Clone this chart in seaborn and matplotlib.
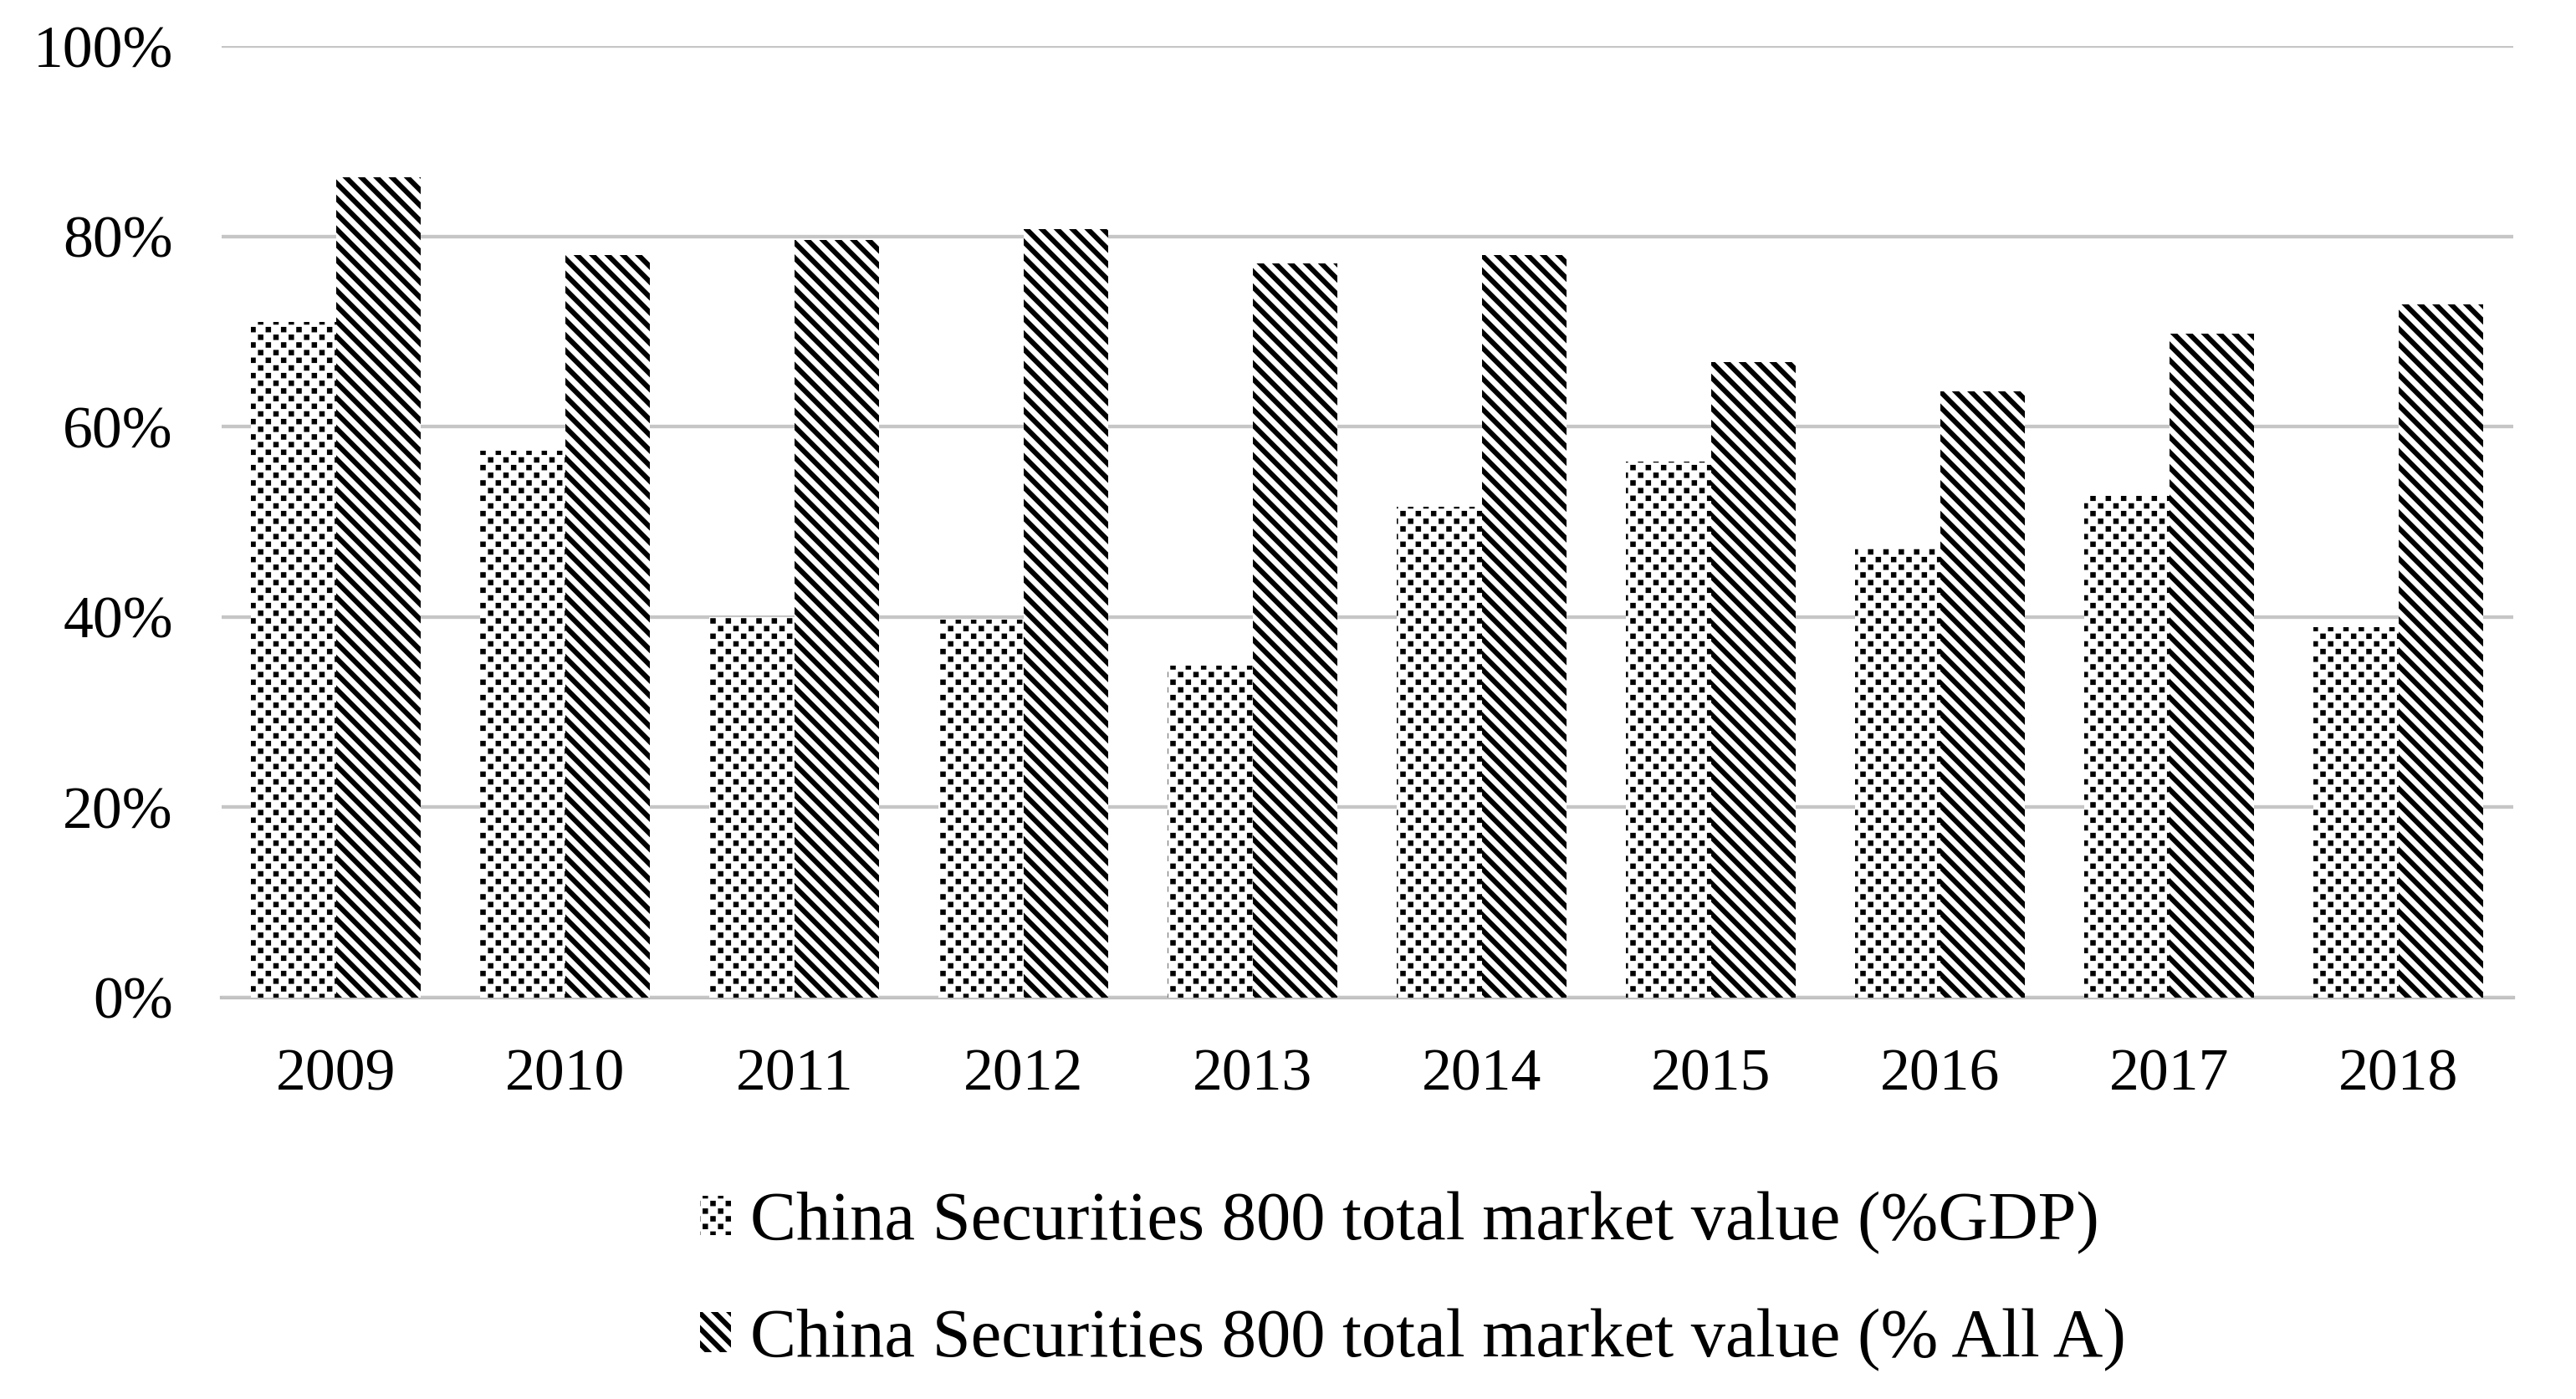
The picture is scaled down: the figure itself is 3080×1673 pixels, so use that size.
import numpy as np
import pandas as pd
import matplotlib
matplotlib.use("Agg")
import matplotlib.pyplot as plt
from matplotlib import hatch as mhatch
from matplotlib.path import Path
import seaborn as sns

years = ["2009", "2010", "2011", "2012", "2013", "2014", "2015", "2016", "2017", "2018"]
gdp_share = [71.0, 57.5, 40.0, 39.7, 34.9, 51.6, 56.3, 47.2, 52.7, 38.9]
alla_share = [86.2, 78.0, 79.6, 80.8, 77.2, 78.0, 66.8, 63.7, 69.8, 72.9]
series_names = ["China Securities 800 total market value (%GDP)",
                "China Securities 800 total market value (% All A)"]
y_ticks = [0, 20, 40, 60, 80, 100]

df = pd.DataFrame({
    "year": years * 2,
    "value": gdp_share + alla_share,
    "series": [series_names[0]] * len(years) + [series_names[1]] * len(years),
})


# staggered dot hatch (like the office "dotted" pattern), mapped to '*'
class StaggeredDots(mhatch.HatchPatternBase):
    def __init__(self, hatch, density):
        n = hatch.count('*')
        self.num_vertices = 0
        if n:
            cols, rows = 6, 12
            pts = []
            for r in range(rows + 1):
                y = r / rows
                if r % 2 == 0:
                    xs = np.linspace(0, 1, cols + 1)
                else:
                    xs = (np.arange(cols) + 0.5) / cols
                for x in xs:
                    pts.append((x, y))
            self.centers = np.array(pts)
            self.num_vertices = len(pts) * 5

    def set_vertices_and_codes(self, vertices, codes):
        h = 0.024
        sq = np.array([[-h, -h], [h, -h], [h, h], [-h, h], [-h, -h]])
        for i, c in enumerate(self.centers):
            vertices[i * 5:(i + 1) * 5] = sq + c
            codes[i * 5] = Path.MOVETO
            codes[i * 5 + 1:i * 5 + 4] = Path.LINETO
            codes[i * 5 + 4] = Path.CLOSEPOLY


mhatch._hatch_types = [t for t in mhatch._hatch_types if t is not mhatch.Stars] + [StaggeredDots]

DPI = 110
sns.set_theme(style="white")
plt.rcParams["font.family"] = ["Liberation Serif", "DejaVu Serif"]
plt.rcParams["text.color"] = "black"
plt.rcParams["xtick.color"] = "black"
plt.rcParams["ytick.color"] = "black"

fig = plt.figure(figsize=(3080 / DPI, 1673 / DPI), dpi=DPI)
ax = fig.add_axes([0.086, 0.287, 0.8896, 0.680])

sns.barplot(data=df, x="year", y="value", hue="series", order=years,
            hue_order=series_names, palette=["white", "white"],
            width=0.74, ax=ax, legend=False, saturation=1)

hatches = ["*", "\\\\"]
hlw = [0.8, 4.0]
handles = []
for cont, h, lw in zip(ax.containers, hatches, hlw):
    for p in cont.patches:
        p.set_hatch(h)
        p.set_edgecolor("black")
        p.set_linewidth(0)
        p.set_facecolor("white")
        if hasattr(p, "set_hatch_linewidth"):
            p.set_hatch_linewidth(lw)
    handles.append(cont.patches[0])

ax.set_ylim(0, 100)
ax.set_xlim(-0.5, len(years) - 0.5)
ax.set_yticks(y_ticks)
ax.set_yticklabels([f"{t}%" for t in y_ticks])
ax.yaxis.grid(True, color="#c6c6c6", linewidth=2.8)
ax.set_axisbelow(True)
for s in ["left", "right", "top"]:
    ax.spines[s].set_visible(False)
ax.spines["bottom"].set_color("#c0c0c0")
ax.spines["bottom"].set_linewidth(2.8)
ax.spines["bottom"].set_zorder(0.5)

ax.tick_params(axis="y", length=0, pad=38, labelsize=47, labelcolor="black")
ax.tick_params(axis="x", which="major", length=0, pad=40, labelsize=47, labelcolor="black")
ax.set_xticks(np.arange(-0.5, len(years), 1), minor=True)
ax.tick_params(axis="x", which="minor", length=14.5, width=2.2, color="#c0c0c0")
ax.set_xlabel("")
ax.set_ylabel("")

leg = fig.legend(handles=handles, labels=series_names, loc="upper left",
                 bbox_to_anchor=(0.261, 0.168), frameon=False, fontsize=54,
                 handlelength=0.45, handleheight=0.5, handletextpad=0.28,
                 labelspacing=0.78, borderaxespad=0)
for t in leg.get_texts():
    t.set_color("black")
for lh, h, lw in zip(leg.legend_handles, hatches, hlw):
    lh.set_hatch(h)
    lh.set_edgecolor("black")
    lh.set_linewidth(0)
    if hasattr(lh, "set_hatch_linewidth"):
        lh.set_hatch_linewidth(lw)

fig.savefig("out.png", dpi=DPI, facecolor="white")
